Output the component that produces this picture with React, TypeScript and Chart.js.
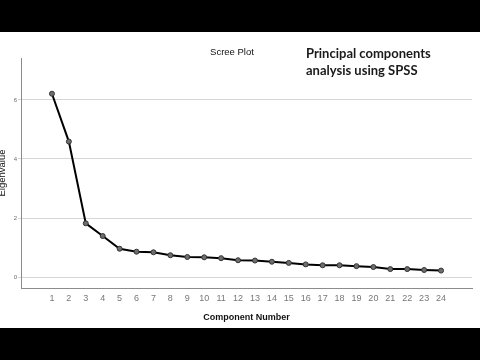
import React, { useEffect, useRef } from "react";
import { Chart, registerables } from "chart.js";

Chart.register(...registerables);

const components: number[] = [1, 2, 3, 4, 5, 6, 7, 8, 9, 10, 11, 12, 13, 14, 15, 16, 17, 18, 19, 20, 21, 22, 23, 24];
const eigenvalues: number[] = [6.21, 4.59, 1.82, 1.39, 0.96, 0.86, 0.84, 0.74, 0.68, 0.67, 0.64, 0.57, 0.56, 0.52, 0.48, 0.43, 0.4, 0.4, 0.37, 0.34, 0.27, 0.27, 0.24, 0.22];
const yTicks: number[] = [0, 2, 4, 6];
const chartTitle = "Scree Plot";
const xTitle = "Component Number";
const yTitle = "Eigenvalue";
const noteLines: string[] = ["Principal components", "analysis using SPSS"];

export default function App() {
  const canvasRef = useRef<HTMLCanvasElement | null>(null);

  useEffect(() => {
    document.body.style.margin = "0";
    const canvas = canvasRef.current;
    if (!canvas) return;
    const chart = new Chart(canvas, {
      type: "line",
      data: {
        datasets: [
          {
            data: components.map((c, i) => ({ x: c, y: eigenvalues[i] })),
            borderColor: "#000000",
            borderWidth: 2,
            pointRadius: 2.5,
            pointBackgroundColor: "#6e6e6e",
            pointBorderColor: "#333333",
            pointBorderWidth: 1,
            tension: 0,
          },
        ],
      },
      options: {
        animation: false,
        responsive: false,
        maintainAspectRatio: false,
        layout: { padding: { top: 26, right: 8, bottom: 0, left: 0 } },
        plugins: { legend: { display: false }, tooltip: { enabled: false }, title: { display: false } },
        scales: {
          x: {
            type: "linear",
            min: 1 - 1.83,
            max: 24 + 1.83,
            afterBuildTicks: (scale: any) => {
              scale.ticks = components.map((v) => ({ value: v }));
            },
            afterFit: (scale: any) => {
              scale.height = 40;
            },
            grid: { display: false, drawTicks: false },
            border: { display: true, color: "#8c8c8c", width: 1 },
            ticks: {
              autoSkip: false,
              maxRotation: 0,
              padding: 5,
              color: "#777777",
              font: { family: "Arial, 'Liberation Sans'", size: 9 },
              callback: (v: any) => String(v),
            },
            title: {
              display: true,
              text: xTitle,
              color: "#111111",
              font: { family: "Arial, 'Liberation Sans'", size: 9, weight: "bold" },
              padding: { top: 0, bottom: 5.5 },
            },
          },
          y: {
            type: "linear",
            min: -0.37,
            max: 7.42,
            afterBuildTicks: (scale: any) => {
              scale.ticks = yTicks.map((v) => ({ value: v }));
            },
            afterFit: (scale: any) => {
              scale.width = 25;
            },
            grid: { color: "#d6d6d6", lineWidth: 1, drawTicks: true, tickLength: 3, tickColor: "#d6d6d6" },
            border: { display: true, color: "#8c8c8c", width: 1 },
            ticks: {
              padding: 1,
              color: "#6a6a6a",
              font: { family: "Arial, 'Liberation Sans'", size: 6 },
              callback: (v: any) => String(v),
            },
            title: {
              display: true,
              text: yTitle,
              color: "#111111",
              font: { family: "Arial, 'Liberation Sans'", size: 9.5 },
              padding: { top: 1, bottom: 0 },
            },
          },
        },
      },
    } as any);
    return () => chart.destroy();
  }, []);

  return (
    <div style={{ position: "relative", width: 480, height: 360, background: "#000", overflow: "hidden" }}>
      <div style={{ position: "absolute", left: 0, top: 32, width: 480, height: 296, background: "#fff", overflow: "hidden" }}>
        <canvas
          ref={canvasRef}
          width={484}
          height={296}
          style={{ position: "absolute", left: -4, top: 0, width: 484, height: 296 }}
        />
        <div
          style={{
            position: "absolute",
            left: 182,
            width: 100,
            top: 14,
            textAlign: "center",
            fontFamily: "Arial, 'Liberation Sans'",
            fontSize: 9.5,
            lineHeight: "11px",
            color: "#111",
          }}
        >
          {chartTitle}
        </div>
        <div
          style={{
            position: "absolute",
            left: 306,
            top: 12.5,
            fontFamily: "Lato, 'Open Sans', sans-serif",
            fontWeight: 700,
            fontSize: 13,
            lineHeight: "17px",
            color: "#1a1a1a",
            whiteSpace: "nowrap",
          }}
        >
          {noteLines.map((l, i) => (
            <div key={i}>{l}</div>
          ))}
        </div>
      </div>
    </div>
  );
}
